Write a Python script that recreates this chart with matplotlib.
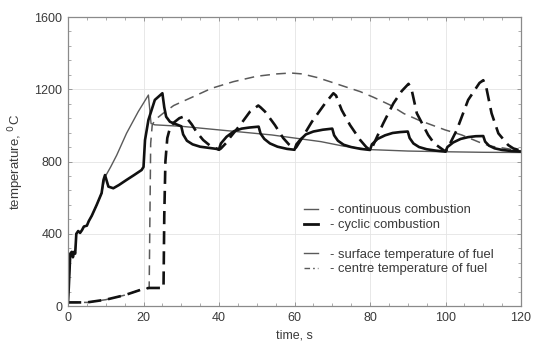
import matplotlib
matplotlib.use("Agg")
import matplotlib.pyplot as plt
from matplotlib.lines import Line2D
from matplotlib.ticker import MultipleLocator

# ---- data ----
# continuous combustion, surface temperature of fuel (thin solid)
cont_surf_t = [0, 0.2, 0.6, 1.0, 1.3, 1.6, 1.9, 2.2, 2.7, 3.2, 3.7, 4.2, 5.0, 5.5, 6.3, 7.6, 8.9, 9.8,
               11.3, 12.9, 15.5, 18.6, 21.3, 22.0, 23.0, 30, 40, 50, 54, 60, 67, 73, 80, 90, 100, 110, 120]
cont_surf_y = [20, 100, 290, 300, 270, 300, 290, 400, 415, 405, 420, 440, 445, 470, 500, 560, 625, 714,
               770, 835, 956, 1076, 1168, 1010, 1003, 995, 975, 955, 947, 930, 910, 885, 866, 858, 854, 851, 850]

# continuous combustion, centre temperature of fuel (thin dashed)
cont_cent_t = [0, 5, 10, 15, 20, 21.5, 21.7, 21.9, 22.3, 23.0, 25.2, 28, 33.2, 38, 43.8, 50, 55.3, 59,
               62, 66, 69.4, 73, 77.4, 81, 85.3, 89, 92.8, 96, 99.9, 104.3, 109.6, 112, 115.8, 120]
cont_cent_y = [20, 20, 35, 60, 95, 100, 500, 900, 1000, 1030, 1067, 1110, 1159, 1205, 1242, 1272, 1285, 1290,
               1285, 1265, 1242, 1217, 1187, 1155, 1113, 1065, 1030, 1005, 975, 947, 901, 885, 873, 858]

# cyclic combustion, surface temperature of fuel (thick solid)
cyc_surf_t = [0, 0.2, 0.6, 1.0, 1.3, 1.6, 1.9, 2.2, 2.7, 3.2, 3.7, 4.2, 5.0, 5.5, 6.3, 7.6, 8.9, 9.4, 9.8,
              10.7, 12.0, 13.5, 15.5, 17.5, 19.5, 20.0, 20.4, 21.3, 23.0, 25.0, 25.5, 26.0, 27.0, 30.0,
              30.5, 31.5, 33, 35, 37.5, 40,
              40.5, 42, 44, 46, 48, 50.5,
              51, 52, 53.5, 55.5, 58, 60,
              60.5, 61.5, 63, 65, 67.5, 70,
              70.5, 71.5, 73, 75, 77.5, 80,
              80.5, 82, 84, 86, 88, 90,
              90.5, 91.5, 93, 95, 97.5, 100,
              100.5, 102, 104, 106, 108, 110,
              110.5, 111.5, 113, 115, 117.5, 120]
cyc_surf_y = [20, 100, 290, 300, 270, 300, 290, 400, 415, 405, 420, 440, 445, 470, 500, 560, 625, 698, 725,
              661, 652, 670, 698, 725, 753, 770, 919, 1030, 1141, 1178, 1100, 1048, 1020, 995,
              950, 915, 895, 882, 875, 868,
              900, 937, 968, 982, 988, 993,
              955, 925, 900, 882, 870, 865,
              895, 920, 950, 966, 976, 982,
              945, 915, 893, 880, 870, 864,
              895, 925, 945, 958, 963, 966,
              930, 900, 880, 868, 860, 855,
              880, 905, 925, 935, 940, 941,
              910, 888, 873, 864, 858, 855]

# cyclic combustion, centre temperature of fuel (thick dashed)
cyc_cent_t = [0, 5, 10, 15, 20, 21.5, 25.0, 25.3, 25.5, 25.8, 26.3, 27, 28, 29.5, 30.8, 31.5, 32.8, 34, 35.8, 37.5, 40,
              40.5, 42, 43, 45.6, 48.2, 50.4, 51, 52.2, 54.8, 57, 58.5, 60,
              60.5, 62, 64.6, 68.1, 70.3, 71, 72.5, 74.7, 77.4, 79, 80,
              80.5, 83.5, 86.2, 88.4, 90.2, 91, 92.4, 95.4, 97, 99, 100,
              100.5, 103, 106, 109, 110, 110.8, 112.2, 114, 116.6, 118, 120]
cyc_cent_y = [20, 20, 35, 60, 95, 100, 100, 100, 500, 800, 930, 985, 1015, 1040, 1050, 1040, 1005, 965, 919, 890, 865,
              872, 905, 935, 1002, 1076, 1110, 1100, 1076, 1002, 930, 895, 870,
              880, 930, 1020, 1122, 1178, 1165, 1085, 1002, 919, 880, 864,
              875, 1011, 1122, 1190, 1230, 1200, 1067, 947, 900, 870, 855,
              870, 975, 1141, 1235, 1250, 1210, 1067, 956, 891, 872, 860]

x_ticks = [0, 20, 40, 60, 80, 100, 120]
y_ticks = [0, 400, 800, 1200, 1600]

legend_labels = ["- continuous combustion", "- cyclic combustion", "",
                 "- surface temperature of fuel", "- centre temperature of fuel"]

# ---- style ----
plt.rcParams['font.family'] = ['Liberation Sans', 'DejaVu Sans']
plt.rcParams['lines.scale_dashes'] = False

thin_col = '#5a5a5a'
thick_col = '#111111'
text_col = '#3a3a3a'
axis_col = '#8a8a8a'

fig = plt.figure(figsize=(5.33, 3.45), dpi=100)
ax = fig.add_axes([0.1276, 0.113, 0.8499, 0.8377])

ax.plot(cont_surf_t, cont_surf_y, color=thin_col, lw=1.0, solid_joinstyle='round')
ax.plot(cont_cent_t, cont_cent_y, color=thin_col, lw=1.1, linestyle=(0, (7.0, 4.5)))
ax.plot(cyc_cent_t, cyc_cent_y, color=thick_col, lw=1.9, linestyle=(0, (9.5, 5.0)))
ax.plot(cyc_surf_t, cyc_surf_y, color=thick_col, lw=1.9, solid_joinstyle='round')

ax.set_xlim(0, 120)
ax.set_ylim(0, 1600)
ax.set_xticks(x_ticks)
ax.set_yticks(y_ticks)
ax.xaxis.set_minor_locator(MultipleLocator(5))
ax.yaxis.set_minor_locator(MultipleLocator(80))
ax.tick_params(which='both', direction='in', top=True, right=True, color=axis_col,
               labelcolor=text_col, labelsize=9)
ax.tick_params(which='major', length=3, width=0.6, pad=4)
ax.tick_params(which='minor', length=2, width=0.5)
for s in ax.spines.values():
    s.set_color(axis_col)
    s.set_linewidth(0.9)
ax.grid(True, which='major', color='#e4e4e4', lw=0.6)
ax.set_axisbelow(True)

ax.set_xlabel('time, s', fontsize=9, color=text_col, labelpad=4)
ax.set_ylabel('temperature, $^{\\mathrm{0}}$C', fontsize=9.5, color=text_col, labelpad=6)

handles = [Line2D([], [], color=thin_col, lw=1.0),
           Line2D([], [], color=thick_col, lw=2.0),
           Line2D([], [], color='none'),
           Line2D([], [], color=thin_col, lw=1.0),
           Line2D([], [], color=thin_col, lw=1.0, linestyle=(0, (4.0, 2.2, 1.2, 2.2)))]
leg = ax.legend(handles, legend_labels, loc='upper left', bbox_to_anchor=(0.51, 0.37),
                frameon=False, fontsize=9.4, handlelength=1.05, handletextpad=0.95,
                labelspacing=0.2, borderaxespad=0, labelcolor=text_col)

fig.savefig('out.png', dpi=100)
